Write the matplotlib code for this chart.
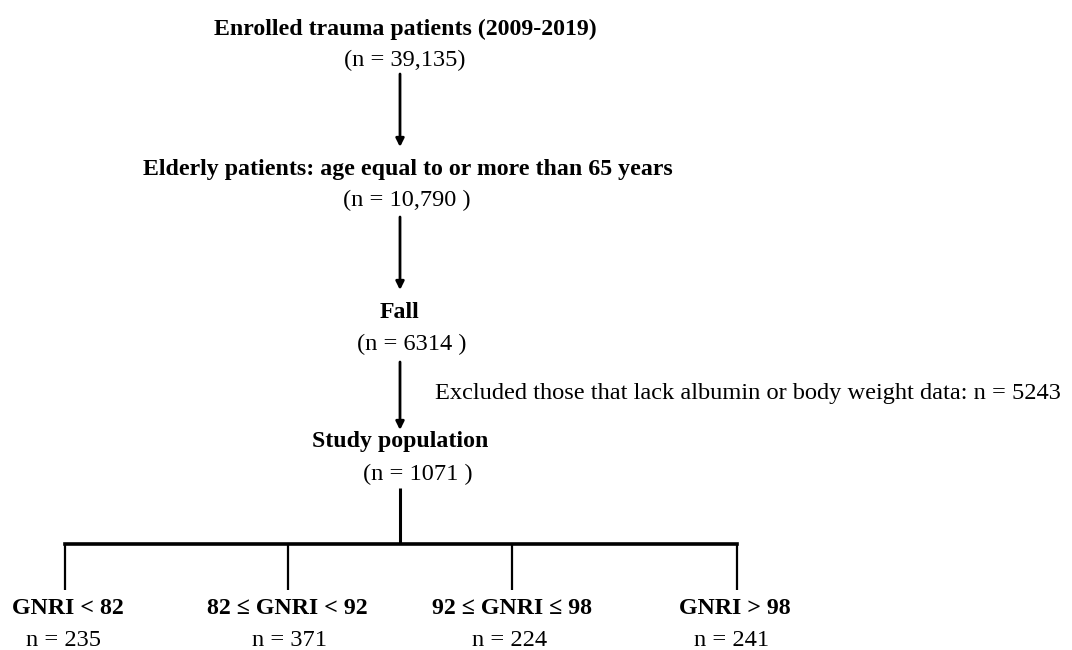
import matplotlib.pyplot as plt

# flow steps (top to bottom)
step_titles = ['Enrolled trauma patients (2009-2019)',
               'Elderly patients: age equal to or more than 65 years',
               'Fall',
               'Study population']
step_counts = ['(n = 39,135)', '(n = 10,790 )', '(n = 6314 )', '(n = 1071 )']
excluded_text = 'Excluded those that lack albumin or body weight data: n = 5243'

# GNRI groups
group_labels = ['GNRI < 82', '82 \u2264 GNRI < 92', '92 \u2264 GNRI \u2264 98', 'GNRI > 98']
group_counts = [235, 371, 224, 241]

FONT = 'Liberation Serif'
FS_B = 17.2
FS_N = 17.6

fig = plt.figure(figsize=(10.72, 6.5), dpi=100)
ax = fig.add_axes([0, 0, 1, 1])
ax.set_xlim(0, 1072)
ax.set_ylim(650, 0)
ax.axis('off')

title_x = [405, 408, 400, 400]
title_y = [29, 169, 312, 442]
count_x = [405, 407, 412, 418]
count_y = [60, 200, 344, 474]
for t, c, tx, ty, cx, cy in zip(step_titles, step_counts, title_x, title_y, count_x, count_y):
    ax.text(tx, ty, t, ha='center', va='center', fontsize=FS_B, fontweight='bold', family=FONT)
    ax.text(cx, cy, c, ha='center', va='center', fontsize=FS_N, family=FONT)

# arrows between steps
arrow_spans = [(74, 147), (217, 290), (362, 430)]
for y0, y1 in arrow_spans:
    ax.annotate('', xy=(400, y1), xytext=(400, y0),
                arrowprops=dict(arrowstyle='-|>', color='black', lw=2,
                                mutation_scale=12, shrinkA=0, shrinkB=0))

ax.text(435, 393, excluded_text, ha='left', va='center', fontsize=FS_N, family=FONT)

# branch to groups
group_x = [65, 288, 512, 737]
ax.plot([400, 400], [488, 544], color='black', lw=2.2, solid_capstyle='butt')
ax.plot([group_x[0], group_x[-1]], [544, 544], color='black', lw=2.6, solid_capstyle='projecting')
for gx in group_x:
    ax.plot([gx, gx], [544, 590], color='black', lw=1.6, solid_capstyle='butt')

label_x = [68, 287, 512, 735]
n_x = [64, 290, 510, 732]
for lbl, n, lx, nx in zip(group_labels, group_counts, label_x, n_x):
    ax.text(lx, 609, lbl, ha='center', va='center', fontsize=FS_B, fontweight='bold', family=FONT)
    ax.text(nx, 640, f'n = {n}', ha='center', va='center', fontsize=FS_N, family=FONT)

fig.savefig('out.png', dpi=100, facecolor='white')
